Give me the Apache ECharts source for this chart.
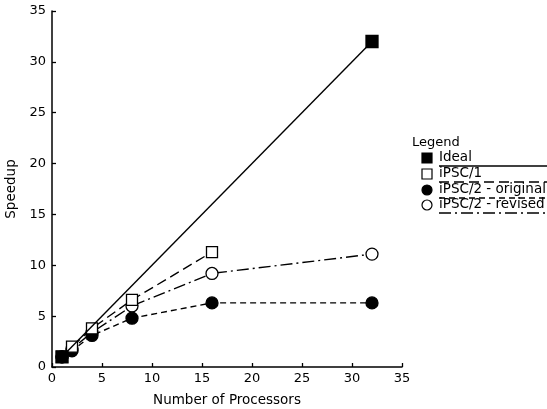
<!DOCTYPE html>
<html><head><meta charset="utf-8">
<script src="https://cdn.jsdelivr.net/npm/echarts@6/dist/echarts.min.js"></script>
<style>html,body{margin:0;padding:0;background:#fff}#c{width:547px;height:409px}</style>
</head><body><div id="c"></div>
<script>
const seriesNames = ['Ideal', 'iPSC/1', 'iPSC/2 - original', 'iPSC/2 - revised'];
const idealData = [[1, 1], [32, 32]];
const ipsc1Data = [[1, 1], [2, 2], [4, 3.8], [8, 6.6], [16, 11.3]];
const originalData = [[1, 1], [2, 1.6], [4, 3.1], [8, 4.8], [16, 6.3], [32, 6.3]];
const revisedData = [[1, 1], [2, 1.8], [4, 3.4], [8, 6.0], [16, 9.2], [32, 11.1]];
const xTicks = [0, 5, 10, 15, 20, 25, 30, 35];
const yTicks = [0, 5, 10, 15, 20, 25, 30, 35];

const FONT = "'DejaVu Sans', 'Liberation Sans', Arial, sans-serif";
const chart = echarts.init(document.getElementById('c'), null, {renderer: 'canvas'});

const styles = [
  {symbol: 'rect', size: 12, fill: '#000', dash: 'solid'},
  {symbol: 'rect', size: 11, fill: '#fff', dash: [10, 5]},
  {symbol: 'circle', size: 12, fill: '#000', dash: [6, 4]},
  {symbol: 'circle', size: 12, fill: '#fff', dash: [12, 4, 2, 4]}
];
const datas = [idealData, ipsc1Data, originalData, revisedData];

const series = datas.map((d, i) => ({
  name: seriesNames[i],
  type: 'line',
  data: d,
  symbol: styles[i].symbol,
  symbolSize: styles[i].size,
  showAllSymbol: true,
  z: 10 - i,
  lineStyle: {color: '#000', width: 1.4, type: styles[i].dash},
  itemStyle: {color: styles[i].fill, borderColor: '#000', borderWidth: 1.3}
}));

// legend drawn with graphic elements
const legendG = [{
  type: 'text', x: 412, y: 143,
  style: {text: 'Legend', font: '13px ' + FONT, fill: '#000', verticalAlign: 'middle'}
}];
const rowY = [158, 174, 190, 205];
rowY.forEach((y, i) => {
  const s = styles[i];
  if (s.symbol === 'rect') {
    legendG.push({type: 'rect', shape: {x: 422, y: y - 5, width: 10, height: 10},
      style: {fill: s.fill, stroke: '#000', lineWidth: 1.2}});
  } else {
    legendG.push({type: 'circle', shape: {cx: 427, cy: y, r: 5},
      style: {fill: s.fill, stroke: '#000', lineWidth: 1.2}});
  }
  legendG.push({type: 'text', x: 439, y: y - 1,
    style: {text: seriesNames[i], font: '13.5px ' + FONT, fill: '#000', verticalAlign: 'middle'}});
  legendG.push({type: 'line', shape: {x1: 439, y1: y + 8, x2: 547, y2: y + 8},
    style: {stroke: '#000', lineWidth: 1.3, lineDash: s.dash === 'solid' ? null : s.dash}});
});

chart.setOption({
  animation: false,
  backgroundColor: '#fff',
  grid: {left: 52, right: 145, top: 11, bottom: 42, containLabel: false, outerBoundsMode: 'none'},
  xAxis: {
    type: 'value', min: 0, max: 35, interval: 5,
    name: 'Number of Processors', nameLocation: 'middle', nameGap: 26,
    nameTextStyle: {fontFamily: FONT, fontSize: 13.5, color: '#000'},
    axisLine: {lineStyle: {color: '#000', width: 1.5}},
    axisTick: {inside: true, length: 4, lineStyle: {color: '#000', width: 1.3}},
    axisLabel: {fontFamily: FONT, fontSize: 13, color: '#000', margin: 5,
      formatter: v => xTicks.includes(v) ? String(v) : ''},
    splitLine: {show: false}
  },
  yAxis: {
    type: 'value', min: 0, max: 35, interval: 5,
    name: 'Speedup', nameLocation: 'middle', nameGap: 31,
    nameTextStyle: {fontFamily: FONT, fontSize: 13.5, color: '#000'},
    axisLine: {lineStyle: {color: '#000', width: 1.5}},
    axisTick: {inside: true, length: 4, lineStyle: {color: '#000', width: 1.3}},
    axisLabel: {fontFamily: FONT, fontSize: 13, color: '#000', margin: 6,
      formatter: v => yTicks.includes(v) ? String(v) : ''},
    splitLine: {show: false}
  },
  series: series,
  graphic: legendG
});
</script></body></html>
